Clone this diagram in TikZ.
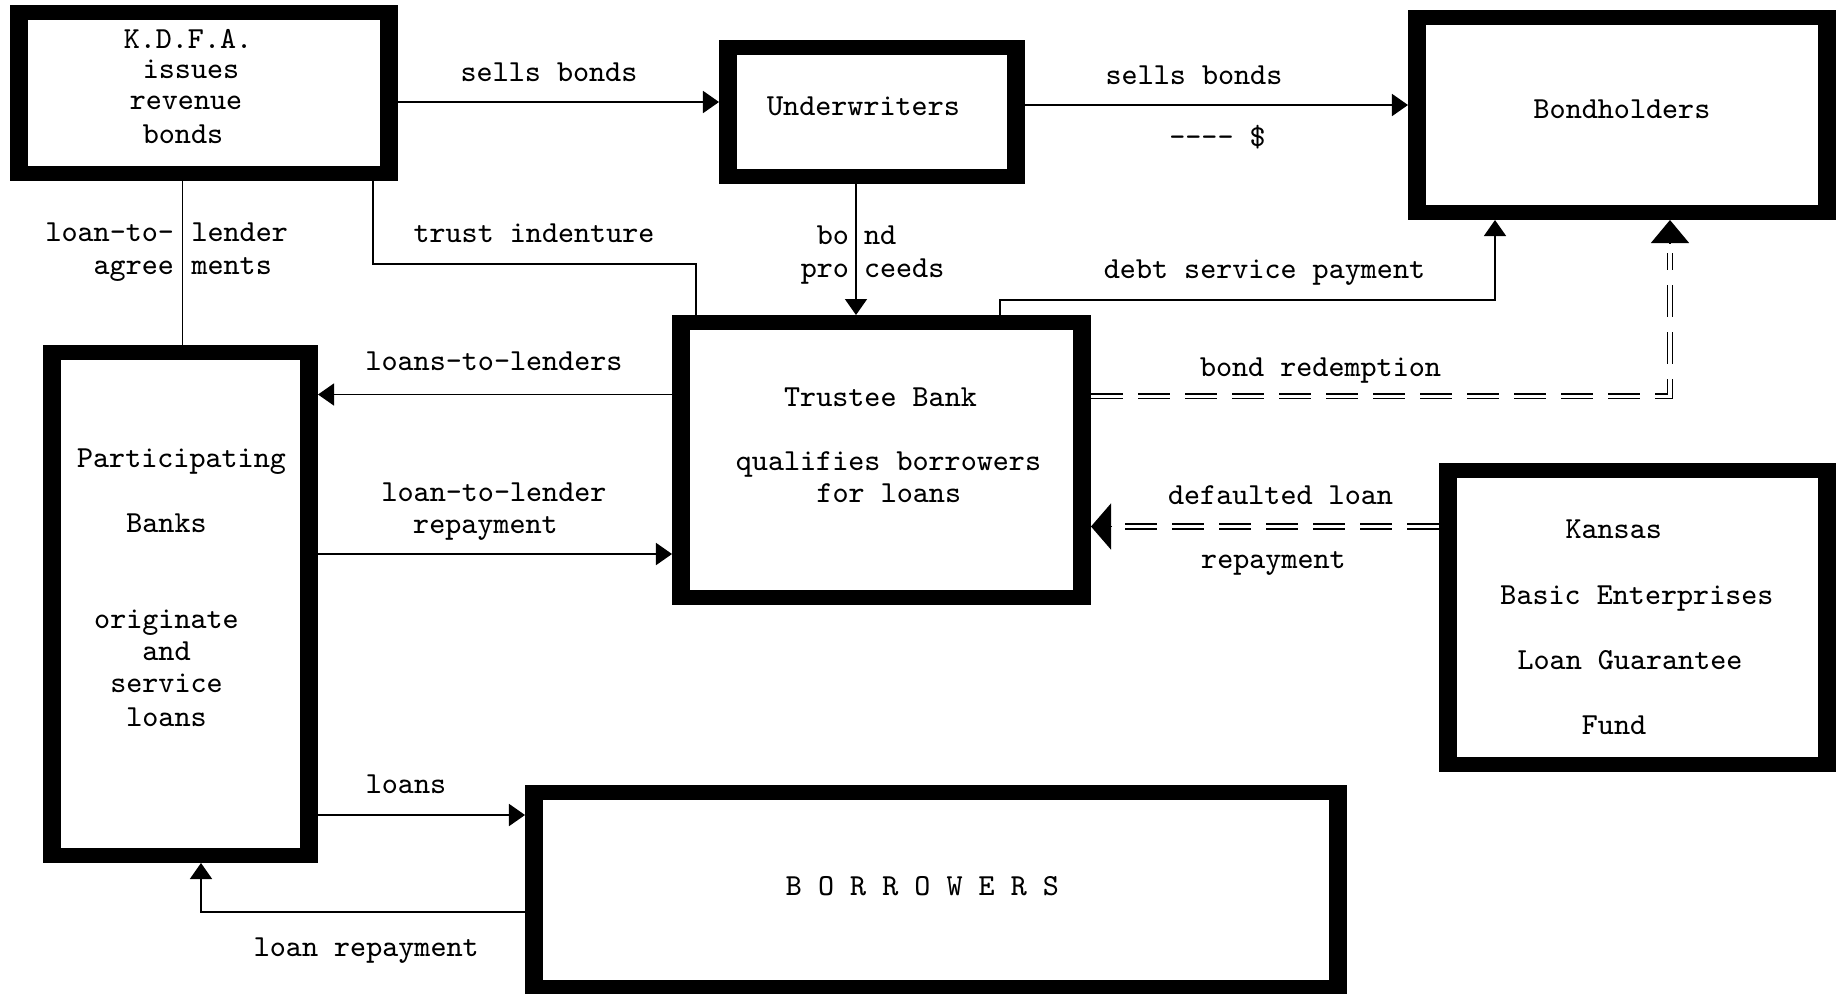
\documentclass[tikz,border=0pt]{standalone}
\usetikzlibrary{arrows.meta,fit,calc}
\tikzset{
  box/.style={fill=black, inner sep=0pt, outer sep=0pt,
    path picture={\fill[white] ([xshift=0.175cm,yshift=-0.15cm]path picture bounding box.north west) rectangle ([xshift=-0.175cm,yshift=0.15cm]path picture bounding box.south east);}},
  lbl/.style={font=\fontsize{8.7}{10}\selectfont\ttfamily, inner sep=0pt, outer sep=0pt, anchor=mid},
  con/.style={draw, line width=0.45pt},
  arr/.style={con, -{Triangle[width=0.22cm,length=0.16cm]}},
  dbl/.style={draw, line width=0.4pt, double, double distance=0.033cm, dash pattern=on 0.32cm off 0.15cm},
  bigtip/.style={draw, line width=0.4pt},
}
\begin{document}
\begin{tikzpicture}[x=0.01cm, y=-0.01cm]
\fill[white] (0,0) rectangle (1841,993);
\useasboundingbox (0,0) rectangle (1841,993);

% boxes
\node[box, fit={(10,5) (398,181)}] (kdfa) {};
\node[box, fit={(719,40) (1025,184)}] (under) {};
\node[box, fit={(1408,10) (1836,220)}] (bond) {};
\node[box, fit={(43,345) (318,863)}] (part) {};
\node[box, fit={(672,315) (1091,605)}] (trustee) {};
\node[box, fit={(1439,463) (1836,772)}] (kansas) {};
\node[box, fit={(525,785) (1347,995)}] (borr) {};

% box texts
\node[lbl] (k1) at (188,41) {K.D.F.A.};
\node[lbl] (k2) at (191,71) {issues};
\node[lbl] (k3) at (186,102) {revenue};
\node[lbl] (k4) at (183,135.5) {bonds};
\node[lbl] (u1) at (863.5,107.5) {Underwriters};
\node[lbl] (b1) at (1622,110.5) {Bondholders};
\node[lbl] (p1) at (181.5,460) {Participating};
\node[lbl] (p2) at (166.5,524.5) {Banks};
\node[lbl] (p3) at (166.5,621) {originate};
\node[lbl] (p4) at (166.5,653) {and};
\node[lbl] (p5) at (166.5,685) {service};
\node[lbl] (p6) at (166.5,718.5) {loans};
\node[lbl] (t1) at (880.5,398.5) {Trustee Bank};
\node[lbl] (t2) at (888.5,463) {qualifies borrowers};
\node[lbl] (t3) at (888.8,495) {for loans};
\node[lbl] (ka1) at (1613.7,531) {Kansas};
\node[lbl] (ka2) at (1637,597) {Basic Enterprises};
\node[lbl] (ka3) at (1630,661.5) {Loan Guarantee};
\node[lbl] (ka4) at (1614,726.5) {Fund};
\node[lbl] (bw) at (922.5,887.5) {B O R R O W E R S};

% connectors
\draw[arr] (kdfa.east |- 0,102) -- (under.west |- 0,102);
\draw[arr] (under.east |- 0,105) -- (bond.west |- 0,105);
\draw[con] (kdfa.south -| 182.5,0) -- (part.north -| 182.5,0);
\draw[con] (kdfa.south -| 373,0) |- (696,264) -- (trustee.north -| 696,0);
\draw[arr] (under.south -| 856,0) -- (trustee.north -| 856,0);
\draw[arr] (trustee.north -| 1000,0) |- (1495,300) -- (bond.south -| 1495,0);
\draw[arr] (trustee.west |- 0,394.5) -- (part.east |- 0,394.5);
\draw[arr] (part.east |- 0,554) -- (trustee.west |- 0,554);
\draw[arr] (part.east |- 0,815) -- (borr.west |- 0,815);
\draw[arr] (borr.west |- 0,912) -| (part.south -| 201,0);

% double dashed connectors
\coordinate (brtip) at (bond.south -| 1670,0);
\draw[dbl, shorten >=0.33cm] (trustee.east |- 0,396.3) -| (brtip);
\draw[bigtip, -{Triangle[width=0.38cm,length=0.23cm]}] ($(brtip)+(0,23)$) -- (brtip);
\coordinate (dftip) at (trustee.east |- 0,526.5);
\draw[dbl, shorten >=0.2cm] (kansas.west |- 0,526.5) -- (dftip);
\draw[bigtip, -{Triangle[width=0.46cm,length=0.2cm]}] ($(dftip)+(20,0)$) -- (dftip);

% connector labels
\node[lbl] (l1) at (549,73.5) {sells bonds};
\node[lbl] (l2) at (1194,76.5) {sells bonds};
\node[lbl] (l3) at (1217.5,138.5) {-\kern0pt-\kern0pt-\kern0pt- \$};
\node[lbl, anchor=mid east] (l4) at (174,233.5) {loan-to-};
\node[lbl, anchor=mid east] (l5) at (174,267) {agree};
\node[lbl, anchor=mid west] (l6) at (191.5,233.5) {lender};
\node[lbl, anchor=mid west] (l7) at (191.5,267) {ments};
\node[lbl] (l8) at (534,234.5) {trust indenture};
\node[lbl, anchor=mid east] (l9) at (849,236.5) {bo};
\node[lbl, anchor=mid west] (l10) at (864,236.5) {nd};
\node[lbl, anchor=mid east] (l11) at (849,269.5) {pro};
\node[lbl, anchor=mid west] (l12) at (864,269.5) {ceeds};
\node[lbl] (l13) at (1264.5,270.5) {debt service payment};
\node[lbl] (l14) at (1320.5,368.5) {bond redemption};
\node[lbl] (l15) at (494,363) {loans-to-lenders};
\node[lbl] (l16) at (494,494) {loan-to-lender};
\node[lbl] (l17) at (485.5,525.5) {repayment};
\node[lbl] (l18) at (1280.5,496.5) {defaulted loan};
\node[lbl] (l19) at (1273.5,560.5) {repayment};
\node[lbl] (l20) at (406,785.5) {loans};
\node[lbl] (l21) at (366.3,949) {loan repayment};
\end{tikzpicture}
\end{document}
